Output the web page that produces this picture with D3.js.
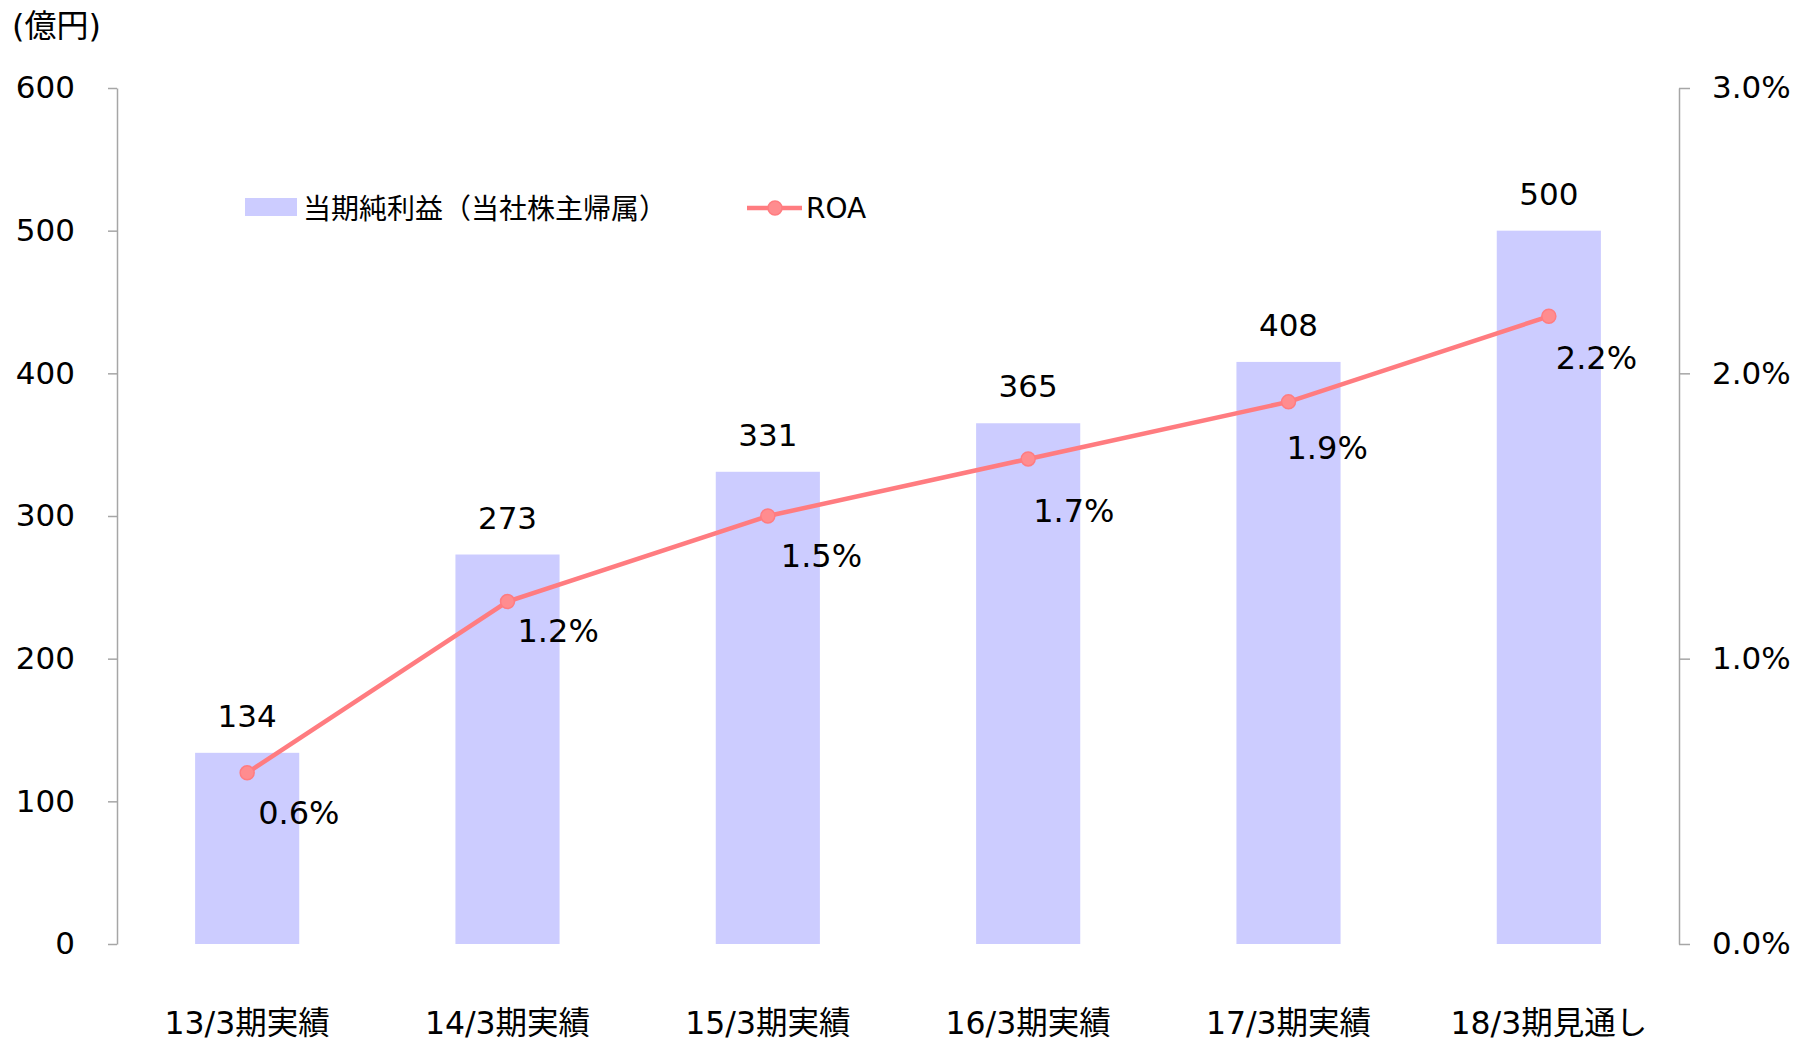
<!DOCTYPE html>
<html>
<head>
<meta charset="utf-8">
<script src="https://cdn.jsdelivr.net/npm/d3@7"></script>
<style>
  html, body { margin: 0; padding: 0; background: #fff; }
  svg { display: block; }
  text { font-family: "DejaVu Sans", "Noto Sans CJK JP", sans-serif; fill: #000; }
</style>
</head>
<body>
<svg id="chart" width="1798" height="1041"></svg>
<script>
// Fiscal periods
const categories = ["13/3期実績", "14/3期実績", "15/3期実績", "16/3期実績", "17/3期実績", "18/3期見通し"];
// Net income attributable to owners of parent (100 million yen)
const netIncome = [134, 273, 331, 365, 408, 500];
// Return on assets (%)
const roa = [0.6, 1.2, 1.5, 1.7, 1.9, 2.2];
// Axis ticks
const leftTicks = [0, 100, 200, 300, 400, 500, 600];
const rightTicks = [0, 1, 2, 3];

// Hand-placed offsets of the ROA labels relative to their points (px)
const roaLabelNudge = [[11, 51], [10, 40], [13, 51], [5, 63], [-2, 57], [7, 53]];

const svg = d3.select("#chart");
const plot = { left: 117, right: 1679, top: 88, bottom: 944 };

const x = d3.scaleBand().domain(categories).range([plot.left, plot.right]).paddingInner(0.6).paddingOuter(0.3);
const yL = d3.scaleLinear().domain([0, 600]).range([plot.bottom, plot.top]);
const yR = d3.scaleLinear().domain([0, 3]).range([plot.bottom, plot.top]);

const barColor = "#ccccff";
const lineColor = "#ff7c80";
const markerFill = "#ff8c8f";
const fontSize = 31;

// Bars
svg.append("g").selectAll("rect").data(netIncome).join("rect")
  .attr("x", (d, i) => x(categories[i]))
  .attr("width", x.bandwidth())
  .attr("y", d => yL(d))
  .attr("height", d => yL(0) - yL(d))
  .attr("fill", barColor);

// Left axis
const axL = svg.append("g").attr("transform", `translate(${plot.left},0)`)
  .call(d3.axisLeft(yL).tickValues(leftTicks).tickSize(9).tickPadding(33).tickSizeOuter(0));
axL.selectAll("path, line").attr("stroke", "#a6a6a6").attr("stroke-width", 1.5);
axL.selectAll("text").style("font-size", fontSize + "px").attr("font-family", null);

// Right axis
const axR = svg.append("g").attr("transform", `translate(${plot.right},0)`)
  .call(d3.axisRight(yR).tickValues(rightTicks).tickSize(11).tickPadding(22).tickSizeOuter(0)
    .tickFormat(d => d.toFixed(1) + "%"));
axR.selectAll("path, line").attr("stroke", "#a6a6a6").attr("stroke-width", 1.5);
axR.selectAll("text").style("font-size", fontSize + "px").attr("font-family", null);

// Category labels
svg.append("g").selectAll("text").data(categories).join("text")
  .attr("x", d => x(d) + x.bandwidth() / 2)
  .attr("y", 1034)
  .attr("text-anchor", "middle")
  .style("font-size", "31.5px")
  .text(d => d);

// Bar value labels
svg.append("g").selectAll("text").data(netIncome).join("text")
  .attr("x", (d, i) => x(categories[i]) + x.bandwidth() / 2)
  .attr("y", d => yL(d) - 26)
  .attr("text-anchor", "middle")
  .style("font-size", fontSize + "px")
  .text(d => d);

// ROA line
const cx = i => x(categories[i]) + x.bandwidth() / 2;
const line = d3.line().x((d, i) => cx(i)).y(d => yR(d));
svg.append("path").datum(roa)
  .attr("d", line)
  .attr("fill", "none")
  .attr("stroke", lineColor)
  .attr("stroke-width", 4.5);

svg.append("g").selectAll("circle").data(roa).join("circle")
  .attr("cx", (d, i) => cx(i))
  .attr("cy", d => yR(d))
  .attr("r", 7)
  .attr("fill", markerFill)
  .attr("stroke", lineColor)
  .attr("stroke-width", 1.5);

// ROA value labels
svg.append("g").selectAll("text").data(roa).join("text")
  .attr("x", (d, i) => cx(i) + roaLabelNudge[i][0])
  .attr("y", (d, i) => yR(d) + roaLabelNudge[i][1])
  .attr("text-anchor", "start")
  .style("font-size", "32px")
  .text(d => d.toFixed(1) + "%");

// Unit label
svg.append("text").attr("x", 12).attr("y", 37)
  .style("font-size", "32px").text("(億円)");

// Legend
const lg = svg.append("g");
lg.append("rect").attr("x", 245).attr("y", 198).attr("width", 52).attr("height", 18).attr("fill", barColor);
lg.append("text").attr("x", 303).attr("y", 219).style("font-size", "28px").text("当期純利益（当社株主帰属）");
lg.append("line").attr("x1", 747).attr("x2", 802).attr("y1", 208).attr("y2", 208)
  .attr("stroke", lineColor).attr("stroke-width", 4.5);
lg.append("circle").attr("cx", 775).attr("cy", 208).attr("r", 7)
  .attr("fill", markerFill).attr("stroke", lineColor).attr("stroke-width", 1.5);
lg.append("text").attr("x", 806).attr("y", 218).style("font-size", "28px").text("ROA");
</script>
</body>
</html>
